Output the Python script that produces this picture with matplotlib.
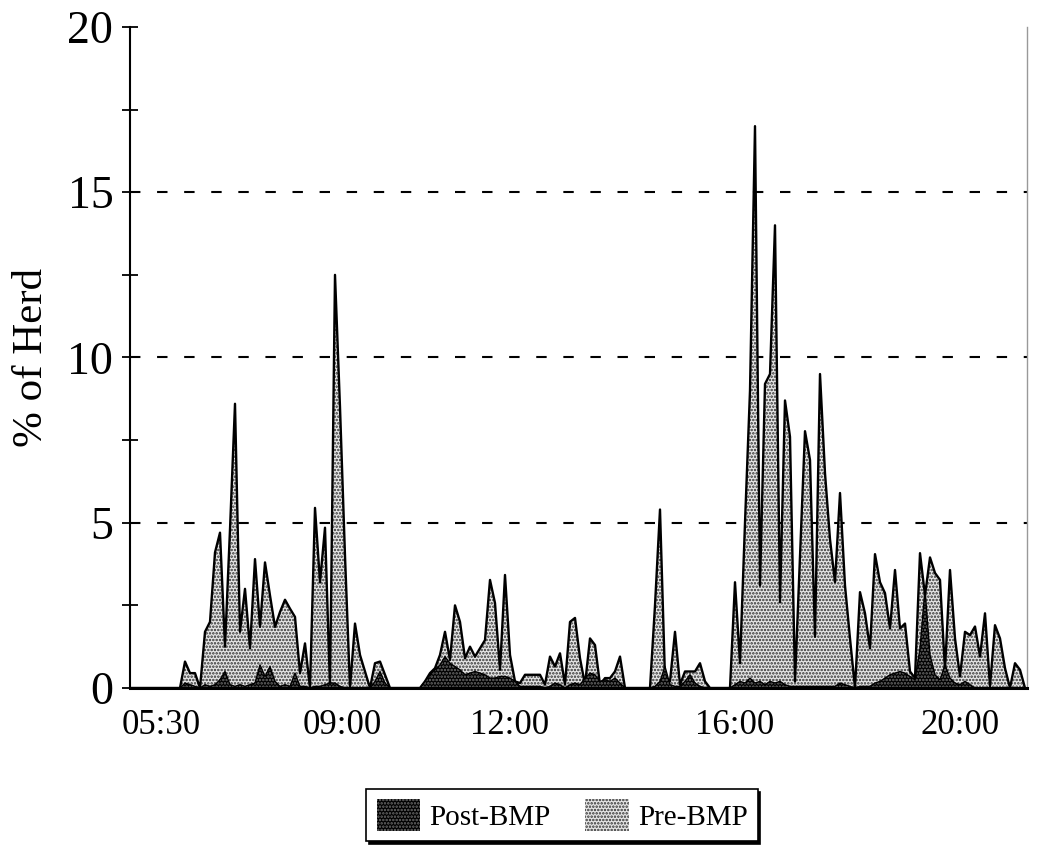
import numpy as np
import matplotlib
matplotlib.use("Agg")
import matplotlib.pyplot as plt
from matplotlib.ticker import MultipleLocator
from matplotlib.patches import Patch

# ---- data (samples at regular intervals along the day) ----
pre_bmp = [
    0, 0, 0, 0, 0, 0, 0, 0, 0, 0,            # 0-9
    0, 0.8, 0.45, 0.45, 0, 1.7, 2.0, 4.1, 4.7, 1.25,   # 10-19
    4.8, 8.6, 1.7, 3.0, 1.2, 3.9, 1.85, 3.8, 2.8, 1.85,  # 20-29
    2.3, 2.67, 2.4, 2.15, 0.45, 1.35, 0, 5.45, 3.2, 4.85,  # 30-39
    0, 12.5, 8.5, 4.0, 0, 1.95, 1.0, 0.5, 0, 0.75,      # 40-49
    0.8, 0.4, 0, 0, 0, 0, 0, 0, 0, 0.2,                 # 50-59
    0.45, 0.6, 1.0, 1.7, 0.85, 2.5, 2.0, 0.9, 1.25, 0.95,  # 60-69
    1.2, 1.45, 3.27, 2.57, 0.55, 3.42, 1.0, 0.2, 0.15, 0.4,  # 70-79
    0.4, 0.4, 0.4, 0.1, 0.95, 0.65, 1.05, 0.1, 2.0, 2.12,  # 80-89
    0.9, 0.1, 1.5, 1.3, 0.1, 0.3, 0.3, 0.5, 0.95, 0,    # 90-99
    0, 0, 0, 0, 0, 2.5, 5.4, 0.3, 0.2, 1.7,             # 100-109
    0.1, 0.5, 0.5, 0.5, 0.75, 0.2, 0, 0, 0, 0,          # 110-119
    0, 3.2, 0.75, 5.0, 9.0, 17.0, 3.1, 9.2, 9.5, 14.0,  # 120-129
    2.6, 8.7, 7.6, 0.2, 4.0, 7.77, 6.9, 1.55, 9.5, 6.5,  # 130-139
    4.5, 3.2, 5.9, 3.1, 1.5, 0, 2.9, 2.26, 1.2, 4.05,   # 140-149
    3.2, 2.87, 1.8, 3.57, 1.8, 1.95, 0.5, 0.3, 4.08, 2.8,  # 150-159
    3.95, 3.48, 3.27, 0.55, 3.57, 1.5, 0.35, 1.7, 1.6, 1.86,  # 160-169
    0.95, 2.26, 0.05, 1.9, 1.5, 0.6, 0, 0.75, 0.55, 0,  # 170-179
]

post_bmp = [
    0, 0, 0, 0, 0, 0, 0, 0, 0, 0,
    0, 0.15, 0.1, 0.05, 0, 0.1, 0.05, 0.1, 0.25, 0.5,
    0.1, 0.05, 0.1, 0.05, 0.1, 0.15, 0.7, 0.35, 0.65, 0.2,
    0.05, 0.1, 0.05, 0.45, 0.05, 0.05, 0, 0.05, 0.05, 0.1,
    0.15, 0.15, 0.05, 0, 0, 0, 0, 0, 0, 0.2,
    0.5, 0.15, 0, 0, 0, 0, 0, 0, 0, 0.2,
    0.4, 0.55, 0.7, 0.95, 0.75, 0.65, 0.55, 0.4, 0.45, 0.5,
    0.45, 0.4, 0.3, 0.3, 0.35, 0.35, 0.3, 0.2, 0.05, 0.05,
    0.05, 0.05, 0.05, 0, 0.05, 0.15, 0.1, 0, 0.1, 0.15,
    0.1, 0.3, 0.45, 0.4, 0.2, 0.25, 0.2, 0.3, 0.15, 0,
    0, 0, 0, 0, 0, 0.05, 0.2, 0.65, 0.1, 0.05,
    0.05, 0.2, 0.4, 0.15, 0.05, 0, 0, 0, 0, 0,
    0, 0.1, 0.2, 0.15, 0.3, 0.15, 0.2, 0.1, 0.2, 0.15,
    0.2, 0.1, 0.05, 0.05, 0.05, 0.05, 0.05, 0.05, 0.05, 0.05,
    0.05, 0.05, 0.15, 0.1, 0.05, 0, 0.05, 0.05, 0.05, 0.15,
    0.2, 0.3, 0.4, 0.45, 0.5, 0.45, 0.35, 0.25, 1.2, 3.0,
    1.0, 0.4, 0.25, 0.7, 0.3, 0.15, 0.1, 0.2, 0.1, 0,
    0, 0, 0, 0, 0, 0, 0, 0, 0, 0,
]

time_labels = ["05:30", "09:00", "12:00", "16:00", "20:00"]
time_label_idx = [6.2, 42.4, 76.0, 121.0, 166.0]   # sample index under each label
series_names = ["Post-BMP", "Pre-BMP"]

x = np.arange(len(pre_bmp))
pre = np.array(pre_bmp, dtype=float)
post = np.array(post_bmp, dtype=float)

plt.rcParams['font.family'] = ['Liberation Serif', 'DejaVu Serif']
plt.rcParams['hatch.linewidth'] = 1.2

PRE_FACE, PRE_DOT = '#e6e6e6', '#303030'
POST_FACE, POST_DOT = '#000000', '#6e6e6e'

W, H = 1041, 846
fig = plt.figure(figsize=(W / 100, H / 100), dpi=100)
ax = fig.add_axes([130 / W, 1 - 688 / H, (1027 - 130) / W, (688 - 27) / H])

# Pre-BMP: light stipple
ax.fill_between(x, 0, pre, facecolor=PRE_FACE, edgecolor=PRE_DOT,
                hatch='.....', linewidth=0, zorder=2)
ax.plot(x, pre, color='black', lw=1.7, zorder=3)
# Post-BMP: dark stipple, in front
ax.fill_between(x, 0, post, facecolor=POST_FACE, edgecolor=POST_DOT,
                hatch='.....', linewidth=0, zorder=4)
ax.plot(x, post, color='black', lw=1.0, zorder=5)

ax.set_xlim(0, (1027 - 130) / 5.0)
ax.set_ylim(0, 20)

# grid
for yv in (5, 10, 15):
    ax.axhline(yv, color='black', lw=1.5, ls=(0, (5, 8)), zorder=1)

ax.yaxis.set_major_locator(MultipleLocator(5))
ax.yaxis.set_minor_locator(MultipleLocator(2.5))
ax.tick_params(axis='y', which='both', direction='inout', length=12, width=1.3,
               labelsize=33, pad=6)
ax.set_xticks(time_label_idx)
ax.set_xticklabels(time_labels)
ax.tick_params(axis='x', length=0, labelsize=25, pad=15)

ax.set_ylabel("% of Herd", fontsize=31, labelpad=12)

ax.spines['top'].set_visible(False)
ax.spines['right'].set_color('#999999')
ax.spines['right'].set_linewidth(1.0)
ax.spines['left'].set_linewidth(1.5)
ax.spines['bottom'].set_linewidth(2.2)
ax.spines['left'].set_zorder(6)
ax.spines['bottom'].set_zorder(6)

# legend
h_post = Patch(facecolor=POST_FACE, edgecolor=POST_DOT, hatch='.....', lw=0)
h_pre = Patch(facecolor=PRE_FACE, edgecolor=PRE_DOT, hatch='.....', lw=0)
leg = fig.legend([h_post, h_pre], series_names, loc='center',
                 bbox_to_anchor=(562 / W, 1 - 815 / H), ncol=2,
                 fontsize=21, frameon=True, fancybox=False,
                 shadow={'color': 'black', 'alpha': 1.0},
                 edgecolor='black', framealpha=1,
                 handlelength=1.5, handleheight=1.3, handletextpad=0.3,
                 columnspacing=1.2, borderpad=0.35, borderaxespad=0)
leg.get_frame().set_linewidth(1.2)

fig.savefig("out.png", dpi=100)
